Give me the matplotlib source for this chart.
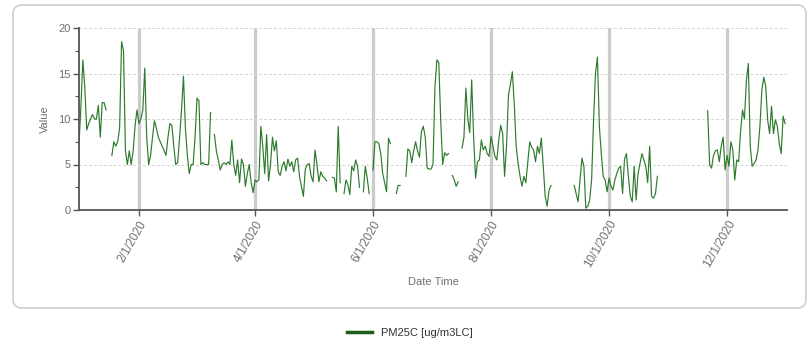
import numpy as np
import pandas as pd
import matplotlib
matplotlib.use("Agg")
import matplotlib.pyplot as plt
from matplotlib.patches import FancyBboxPatch
from matplotlib.ticker import MultipleLocator
from matplotlib.transforms import IdentityTransform

nan = np.nan

# daily PM2.5 readings for 2020, one list per month (nan = no data)
jan = [7.2, 11.5, 16.5, 13.5, 8.8, 9.5, 10, 10.5, 10, 10, 11.5, 8, 11.8, 11.8, 11,
       nan, nan, 6, 7.5, 7, 7.5, 9, 18.5, 17.5, 6.5, 5, 6.5, 5, 6.5, 9.3, 11]
feb = [9.5, 10, 11, 15.6, 8, 5, 6, 8, 9.8, 9, 8, 7.5, 7, 6.5, 6, 8, 9.5, 9.3, 7,
       5, 5.2, 8, 11, 14.7, 9, 6, 4, 5, 5]
mar = [8, 12.3, 12, 5, 5.2, 5, 5, 5, 10.7, nan, 8.3, 6.5, 5.5, 4.4, 5, 5.2, 5,
       5.3, 5, 7.7, 5, 3.8, 5.5, 3, 5.6, 5, 2.6, 4, 5, 3, 1.9]
apr = [3.3, 3.1, 3.3, 9.2, 7, 4, 8.3, 3.2, 5, 8, 6.5, 7.6, 4.2, 3.8, 4.8, 5.3,
       4.3, 5.6, 4.8, 5.3, 4.2, 5.5, 5.7, 3.7, 2.6, 1.5, 4.5, 5, 5.1, 3.7]
may = [3.1, 6.6, 5, 3.1, 4.2, 3.7, 3.5, 3.2, nan, nan, 3.6, 3.5, 2, 9.2, 3, nan,
       1.8, 3.3, 2.8, 1.7, 4.8, 4.3, 5.5, 4.8, 2.5, nan, 2, 4.8, 3.5, 1.8, nan]
jun = [4.4, 7.5, 7.5, 7.3, 6.2, 4, 3, 2, 7.9, 7.3, nan, nan, 1.8, 2.7, 2.7, nan,
       nan, 3.7, 6.7, 6.5, 5.2, 6.5, 7.5, 6.5, 5.8, 8.6, 9.2, 8, 4.6, 4.5]
jul = [4.5, 5, 13.5, 16.5, 16.2, 9.8, 5, 6.3, 6, 6.2, nan, 3.8, 3.3, 2.6, 3.1, nan,
       6.8, 8, 13.4, 10, 8.5, 14.3, 8, 3.5, 5.3, 5.5, 7.7, 6.6, 7, 6.2, 5.9]
aug = [8.1, 7, 5.9, 5.5, 7.7, 9.3, 8.4, 3.7, 7, 12.6, 13.8, 15.2, 11.7, 7, 5.1,
       3.7, 2.6, 3.7, 3, 5.3, 7.5, 6.9, 6.6, 5.3, 7, 6.2, 7.9, 4.8, 1.5, 0.4, 2.2]
sep = [2.7] + [nan] * 11 + [2.7, 1.8, 0.9, 3.3, 5.7, 4.8, 0.2, 0.4, 1.1, 3.3, 9.9,
                            15, 16.8, 9.2, 6.2, 3.7, 3.3, 2]
oct_ = [3.5, 2.6, 2.2, 3.3, 4, 4.6, 4.8, 1.8, 5.6, 6.2, 3.7, 1.5, 0.9, 4.8, 1.1, 4,
        5.1, 6.2, 5.5, 4.8, 3, 7, 1.5, 1.3, 1.8, 3.7, nan, nan, nan, nan, nan]
nov = [nan] * 20 + [10.9, 5, 4.6, 6, 6.5, 6.6, 5.3, 7, 8, 4.4]
dec = [6, 4.8, 7.5, 6.6, 3.3, 5.5, 5.3, 8.6, 11, 10, 14.2, 16.1, 7, 4.8, 5.1, 5.5,
       6.6, 9.2, 13.2, 14.6, 13.6, 9.9, 8.4, 11.4, 8.4, 9.9, 9.2, 7.3, 6.2, 10.3, 9.5]

tick_dates = ["2020-02-01", "2020-04-01", "2020-06-01",
              "2020-08-01", "2020-10-01", "2020-12-01"]
series_name = "PM25C [ug/m3LC]"

values = jan + feb + mar + apr + may + jun + jul + aug + sep + oct_ + nov + dec
dates = pd.date_range("2020-01-01", periods=len(values), freq="D")

plt.rcParams["font.family"] = ["Liberation Sans", "DejaVu Sans"]

W, H = 811, 348
fig = plt.figure(figsize=(W / 100, H / 100), dpi=100)

# rounded frame around the chart area, kept behind the axes
frame = FancyBboxPatch((13, H - 308), 793, 303,
                       boxstyle="round,pad=0,rounding_size=9",
                       transform=IdentityTransform(),
                       facecolor="none", edgecolor="#cdcdcd", linewidth=1.2,
                       zorder=-1)
fig.patches.append(frame)

ax = fig.add_axes([79 / W, 1 - 210 / H, (787 - 79) / W, (210 - 28) / H])
ax.set_facecolor("none")

line, = ax.plot(dates, values, color="#2d7a2d", linewidth=0.85, label=series_name)

ticks = pd.to_datetime(tick_dates)
ax.set_xlim(pd.Timestamp("2020-01-01"), pd.Timestamp("2021-01-01"))
ax.set_xticks(ticks)
ax.set_xticklabels([f"{d.month}/{d.day}/{d.year}" for d in ticks],
                   rotation=60, ha="right", rotation_mode="anchor", fontsize=8.5)

ax.set_ylim(0, 20)
ax.yaxis.set_major_locator(MultipleLocator(5))
ax.yaxis.set_minor_locator(MultipleLocator(2.5))

ax.set_axisbelow(True)
ax.xaxis.grid(True, color="#cbcbcb", linewidth=2.3)
ax.yaxis.grid(True, color="#d3d3d3", linewidth=0.7, linestyle=(0, (3, 2)))

for side in ["top", "right"]:
    ax.spines[side].set_visible(False)
for side in ["left", "bottom"]:
    ax.spines[side].set_color("#555555")
    ax.spines[side].set_linewidth(1.3)

ax.tick_params(axis="both", which="major", length=4, width=1, color="#555555",
               labelcolor="#707070", pad=2)
ax.tick_params(axis="y", which="major", labelsize=8)
ax.tick_params(axis="y", which="minor", length=3, width=0.8, color="#555555")

ax.set_xlabel("Date Time", fontsize=8, color="#707070")
ax.xaxis.set_label_coords(0.5, -0.37)
ax.set_ylabel("Value", fontsize=8, color="#707070")
ax.yaxis.set_label_coords(-0.041, 0.5)

fig.legend(handles=[line], loc="center", bbox_to_anchor=(410 / W, 1 - 333 / H),
           frameon=False, fontsize=8, handlelength=2.2, labelcolor="#333333")
for lh in fig.legends[0].get_lines():
    lh.set_linewidth(2.5)
    lh.set_color("#1c5f1c")

fig.savefig("out.png", dpi=100)
